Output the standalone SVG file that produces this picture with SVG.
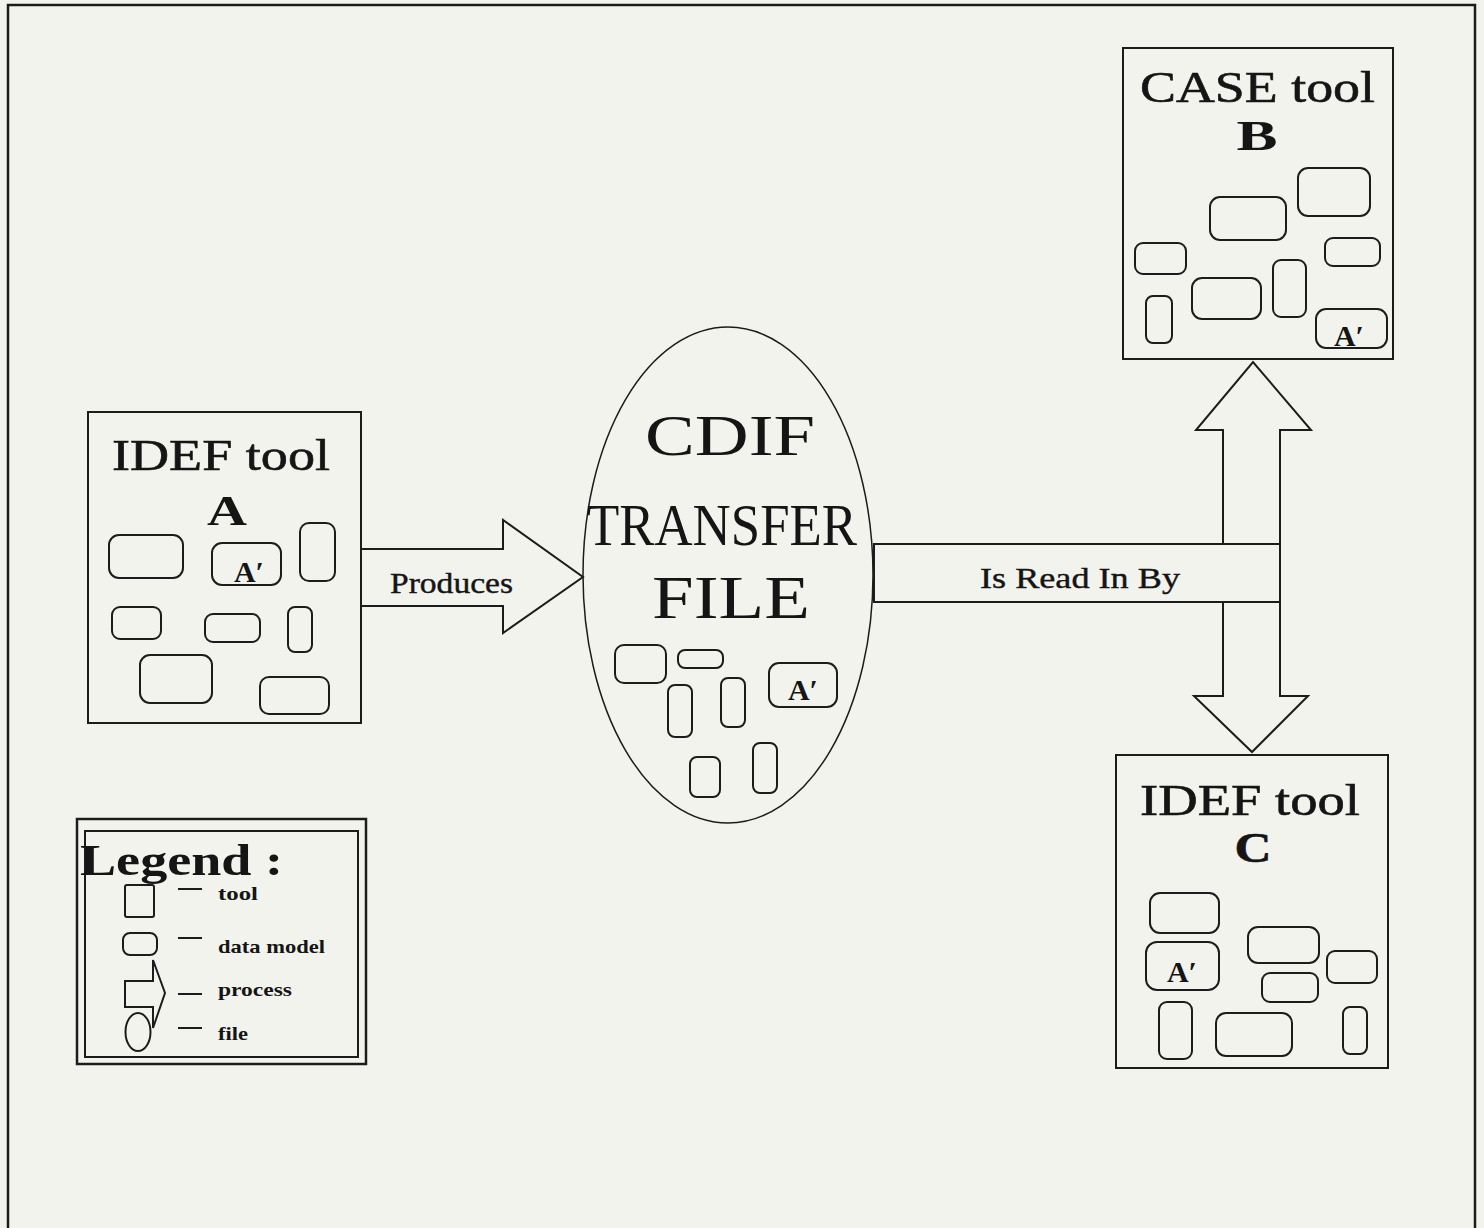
<svg xmlns="http://www.w3.org/2000/svg" width="1484" height="1228" viewBox="0 0 1484 1228">
<defs>
<style>
.bg{fill:#f3f3ee}
.box{fill:none;stroke:#1c1c1c;stroke-width:2}
.rr{fill:none;stroke:#1c1c1c;stroke-width:2}
.arrow{fill:#f3f3ee;stroke:#1c1c1c;stroke-width:2;stroke-linejoin:miter}
.title{font-family:"Liberation Serif","Times New Roman",serif;font-size:45px;fill:#151515;stroke:#151515;stroke-width:0.6}
.letter{font-family:"Liberation Serif","Times New Roman",serif;font-weight:bold;font-size:42px;fill:#151515;text-anchor:middle}
.ap{font-family:"Liberation Serif","Times New Roman",serif;font-weight:bold;font-size:30px;fill:#151515;text-anchor:middle}
.lbl{font-family:"Liberation Serif","Times New Roman",serif;font-size:30px;fill:#151515;stroke:#151515;stroke-width:0.4}
.big{font-family:"Liberation Serif","Times New Roman",serif;fill:#151515}
.leg{font-family:"Liberation Serif","Times New Roman",serif;font-weight:bold;font-size:19px;fill:#151515}
.dash{stroke:#1c1c1c;stroke-width:2}
</style>
</defs>
<rect class="bg" x="0" y="0" width="1484" height="1228"/>
<path d="M8,1228 V5 H1475 V1228" fill="none" stroke="#1c1c1c" stroke-width="2.5"/>

<g id="cdif-file">
<ellipse cx="728" cy="575" rx="145" ry="248" fill="none" stroke="#1c1c1c" stroke-width="1.5"/>
<text class="big" x="645" y="455" font-size="56" textLength="170" lengthAdjust="spacingAndGlyphs">CDIF</text>
<text class="big" x="587" y="545" font-size="60" textLength="270" lengthAdjust="spacingAndGlyphs">TRANSFER</text>
<text class="big" x="652" y="618" font-size="62" textLength="158" lengthAdjust="spacingAndGlyphs">FILE</text>
<rect class="rr" x="615" y="645" width="51" height="38" rx="9"/>
<rect class="rr" x="678" y="650" width="45" height="18" rx="7"/>
<rect class="rr" x="769" y="663" width="68" height="44" rx="10"/>
<text class="ap" x="803" y="700">A′</text>
<rect class="rr" x="668" y="685" width="24" height="52" rx="7"/>
<rect class="rr" x="721" y="678" width="24" height="49" rx="7"/>
<rect class="rr" x="690" y="757" width="30" height="40" rx="7"/>
<rect class="rr" x="753" y="743" width="24" height="50" rx="7"/>
</g>

<g id="connectors">
<g id="produces">
<path class="arrow" d="M361,549 H503 V520 L583,577 L503,633 V606 H361 Z"/>
<text class="lbl" x="390" y="593" textLength="123" lengthAdjust="spacingAndGlyphs">Produces</text>
</g>
<g id="is-read-in-by">
<path class="arrow" d="M1223,430 H1196 L1253,362 L1311,430 H1280 V696 H1308 L1252,752 L1194,696 H1223 Z"/>
<rect class="arrow" x="874" y="544" width="406" height="58"/>
<text class="lbl" x="980" y="588" textLength="200" lengthAdjust="spacingAndGlyphs">Is Read In By</text>
</g>
</g>

<g id="tool-a">
<rect class="box" x="88" y="412" width="273" height="311"/>
<text class="title" x="112" y="470" textLength="218" lengthAdjust="spacingAndGlyphs">IDEF tool</text>
<text class="letter" x="227" y="525" textLength="40" lengthAdjust="spacingAndGlyphs">A</text>
<rect class="rr" x="109" y="535" width="74" height="43" rx="10"/>
<rect class="rr" x="212" y="543" width="69" height="42" rx="10"/>
<text class="ap" x="249" y="582">A′</text>
<rect class="rr" x="300" y="523" width="35" height="58" rx="9"/>
<rect class="rr" x="112" y="607" width="49" height="32" rx="8"/>
<rect class="rr" x="205" y="614" width="55" height="28" rx="8"/>
<rect class="rr" x="288" y="607" width="24" height="45" rx="7"/>
<rect class="rr" x="140" y="655" width="72" height="48" rx="10"/>
<rect class="rr" x="260" y="677" width="69" height="37" rx="9"/>
</g>

<g id="tool-b">
<rect class="box" x="1123" y="48" width="270" height="311"/>
<text class="title" x="1140" y="102" textLength="235" lengthAdjust="spacingAndGlyphs">CASE tool</text>
<text class="letter" x="1257" y="150" textLength="41" lengthAdjust="spacingAndGlyphs">B</text>
<rect class="rr" x="1298" y="168" width="72" height="48" rx="10"/>
<rect class="rr" x="1210" y="197" width="76" height="43" rx="10"/>
<rect class="rr" x="1135" y="243" width="51" height="31" rx="8"/>
<rect class="rr" x="1325" y="238" width="55" height="28" rx="8"/>
<rect class="rr" x="1273" y="260" width="33" height="57" rx="8"/>
<rect class="rr" x="1192" y="278" width="69" height="41" rx="10"/>
<rect class="rr" x="1146" y="296" width="26" height="47" rx="7"/>
<rect class="rr" x="1316" y="309" width="71" height="39" rx="10"/>
<text class="ap" x="1349" y="346">A′</text>
</g>

<g id="tool-c">
<rect class="box" x="1116" y="755" width="272" height="313"/>
<text class="title" x="1140" y="815" textLength="220" lengthAdjust="spacingAndGlyphs">IDEF tool</text>
<text class="letter" x="1253" y="862" font-weight="normal" font-size="44" textLength="37" lengthAdjust="spacingAndGlyphs" stroke="#151515" stroke-width="0.6">C</text>
<rect class="rr" x="1150" y="893" width="69" height="40" rx="10"/>
<rect class="rr" x="1146" y="942" width="73" height="48" rx="11"/>
<text class="ap" x="1182" y="982" font-size="33">A′</text>
<rect class="rr" x="1248" y="927" width="71" height="36" rx="10"/>
<rect class="rr" x="1327" y="951" width="50" height="32" rx="8"/>
<rect class="rr" x="1262" y="973" width="56" height="29" rx="8"/>
<rect class="rr" x="1159" y="1002" width="33" height="57" rx="8"/>
<rect class="rr" x="1216" y="1013" width="76" height="43" rx="10"/>
<rect class="rr" x="1343" y="1007" width="24" height="47" rx="7"/>
</g>

<g id="legend">
<rect x="77" y="819" width="289" height="245" fill="none" stroke="#1c1c1c" stroke-width="2.5"/>
<rect x="85" y="831" width="273" height="226" fill="none" stroke="#1c1c1c" stroke-width="2"/>
<text class="big" x="80" y="875" font-size="44" font-weight="bold" textLength="203" lengthAdjust="spacingAndGlyphs">Legend :</text>
<rect class="rr" x="125" y="885" width="29" height="32" rx="2"/>
<line class="dash" x1="178" y1="889" x2="202" y2="889"/>
<text class="leg" x="218" y="900" textLength="40" lengthAdjust="spacingAndGlyphs">tool</text>
<rect class="rr" x="123" y="933" width="34" height="22" rx="7"/>
<line class="dash" x1="178" y1="938" x2="202" y2="938"/>
<text class="leg" x="218" y="953" textLength="107" lengthAdjust="spacingAndGlyphs">data model</text>
<path class="arrow" d="M125,981 H153 V960 L165,993 L153,1028 V1007 H125 Z"/>
<line class="dash" x1="178" y1="994" x2="202" y2="994"/>
<text class="leg" x="218" y="996" textLength="74" lengthAdjust="spacingAndGlyphs">process</text>
<ellipse cx="138" cy="1032" rx="12.5" ry="19" fill="none" stroke="#1c1c1c" stroke-width="2"/>
<line class="dash" x1="178" y1="1028" x2="202" y2="1028"/>
<text class="leg" x="218" y="1040" textLength="30" lengthAdjust="spacingAndGlyphs">file</text>
</g>
</svg>
